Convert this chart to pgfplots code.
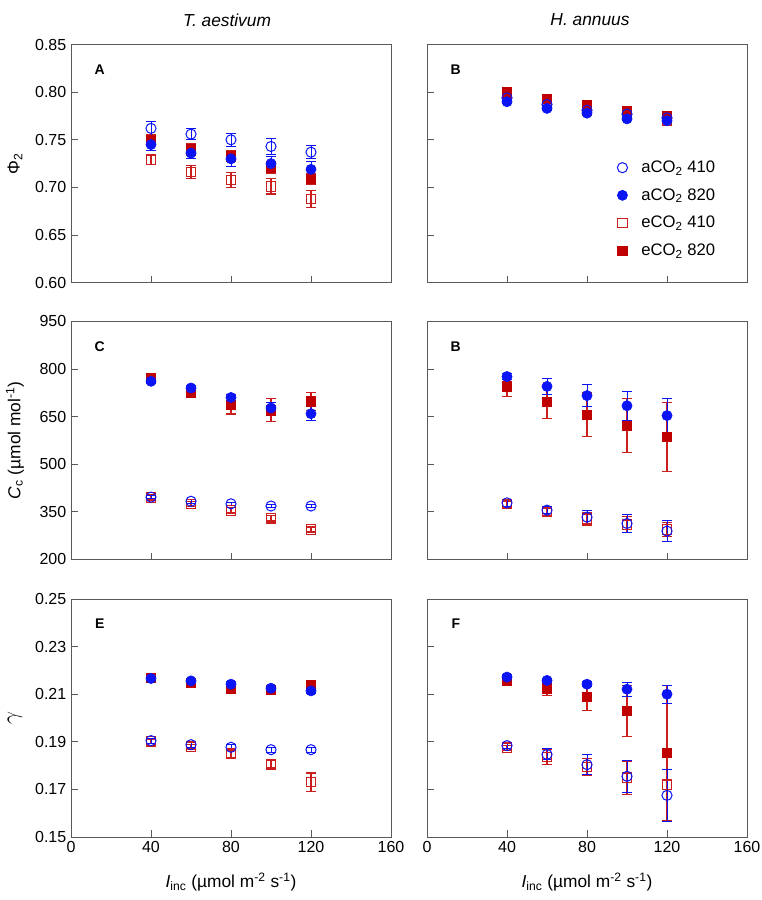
\documentclass[border=0pt]{standalone}
\usepackage{pgfplots}
\usepackage{pgfplotstable}
\pgfplotsset{compat=1.18}
\usepackage{fontspec}
\setmainfont{Liberation Sans}
\definecolor{myblue}{RGB}{10,20,245}
\definecolor{myred}{RGB}{192,0,0}
\definecolor{barred}{RGB}{205,30,30}

% columns: x, aCO2 410 (ao), aCO2 820 (af), eCO2 410 (eo), eCO2 820 (ef), with errors
\pgfplotstableread{
x   ao     aoe    af     afe    eo     eoe    ef     efe
40  0.762  0.007  0.745  0.006  0.729  0.005  0.750  0.006
60  0.756  0.006  0.736  0.006  0.716  0.007  0.740  0.006
80  0.750  0.007  0.730  0.008  0.708  0.008  0.733  0.006
100 0.743  0.008  0.725  0.007  0.701  0.008  0.721  0.006
120 0.737  0.007  0.719  0.008  0.688  0.009  0.709  0.006
}\tabA
\pgfplotstableread{
x   ao     aoe    af     afe    eo     eoe    ef     efe
40  0.794  0.002  0.790  0.002  0.796  0.002  0.800  0.002
60  0.787  0.002  0.783  0.002  0.788  0.002  0.793  0.002
80  0.781  0.002  0.778  0.002  0.781  0.002  0.787  0.002
100 0.777  0.002  0.772  0.002  0.776  0.002  0.780  0.002
120 0.773  0.002  0.770  0.002  0.770  0.002  0.775  0.002
}\tabB
\pgfplotstableread{
x   ao   aoe  af   afe  eo   eoe  ef   efe
40  396  5    761  8    395  8    773  8
60  383  6    740  8    375  8    724  8
80  375  5    710  8    354  8    687  29
100 368  5    677  16   329  8    670  36
120 368  5    659  22   294  8    698  29
}\tabC
\pgfplotstableread{
x   ao   aoe  af   afe  eo   eoe  ef   efe
40  378  12   776  10   374  10   745  33
60  355  12   745  24   349  10   696  53
80  333  22   716  35   326  20   656  68
100 313  29   684  45   309  25   621  85
120 289  34   653  54   294  22   586  108
}\tabD
\pgfplotstableread{
x   ao      aoe     af      afe     eo      eoe     ef      efe
40  0.1905  0.0010  0.2166  0.0010  0.1902  0.0010  0.2170  0.0008
60  0.1888  0.0010  0.2156  0.0010  0.1880  0.0010  0.2149  0.0008
80  0.1877  0.0010  0.2142  0.0010  0.1850  0.0015  0.2125  0.0008
100 0.1867  0.0010  0.2125  0.0010  0.1805  0.0015  0.2117  0.0008
120 0.1867  0.0010  0.2114  0.0010  0.1731  0.0038  0.2138  0.0008
}\tabE
\pgfplotstableread{
x   ao      aoe     af      afe     eo      eoe     ef      efe
40  0.1884  0.0010  0.2172  0.0010  0.1875  0.0010  0.2156  0.0010
60  0.1847  0.0023  0.2158  0.0010  0.1836  0.0030  0.2125  0.0030
80  0.1804  0.0043  0.2142  0.0010  0.1794  0.0035  0.2090  0.0060
100 0.1755  0.0067  0.2121  0.0030  0.1749  0.0070  0.2030  0.0107
120 0.1675  0.0108  0.2100  0.0038  0.1720  0.0150  0.1854  0.0284
}\tabF

\pgfplotsset{
  panel/.style={
    scale only axis, width=240pt, height=178.5pt, anchor=north west,
    xmin=0, xmax=160, xtick={0,40,80,120,160},
    tick align=inside, xtick pos=bottom, ytick pos=left,
    major tick length=5pt,
    axis line style={black!65, line width=0.6pt},
    tick style={black!65, line width=0.6pt},
    clip=false,
    tick label style={font=\fontsize{12}{14}\selectfont},
    /pgf/number format/assume math mode=true,
  },
  ylab/.style={ylabel style={at={(axis description cs:-0.175,0.5)}, anchor=center, font=\fontsize{13}{15}\selectfont}},
  xlab/.style={xlabel={\textit{I}\textsubscript{inc} (µmol m\textsuperscript{-2} s\textsuperscript{-1})},
    xlabel style={at={(axis description cs:0.5,-0.19)}, anchor=center, font=\fontsize{13}{15}\selectfont}},
  ebred/.style={error bars/.cd, y dir=both, y explicit,
    error bar style={color=barred, draw=barred, line width=0.85pt},
    error mark options={color=barred, draw=barred, rotate=90, mark size=3.6pt, line width=0.85pt}},
  ebblue/.style={error bars/.cd, y dir=both, y explicit,
    error bar style={color=myblue, draw=myblue, line width=0.7pt},
    error mark options={color=myblue, draw=myblue, rotate=90, mark size=3.6pt, line width=0.7pt}},
  aopen/.style={only marks, mark=o, mark size=3.8pt, color=myblue, mark options={line width=0.75pt}},
  afill/.style={only marks, mark=*, mark size=3.8pt, color=myblue, mark options={line width=0.5pt}},
  eopen/.style={only marks, mark=square, mark size=3.5pt, color=barred, mark options={draw=barred, line width=0.9pt}},
  efill/.style={only marks, mark=square*, mark size=3.5pt, color=myred, mark options={draw=myred, fill=myred, line width=0.5pt}},
  two/.style={yticklabel style={/pgf/number format/.cd, fixed, fixed zerofill, precision=2}},
}

\newcommand{\plotall}[1]{%
  \addplot[eopen, forget plot, ebred] table[x=x, y=eo, y error=eoe] {#1};
  \addplot[efill, forget plot, ebred] table[x=x, y=ef, y error=efe] {#1};
  \addplot[aopen, forget plot, ebblue] table[x=x, y=ao, y error=aoe] {#1};
  \addplot[afill, forget plot, ebblue] table[x=x, y=af, y error=afe] {#1};
}
\newcommand{\plet}[1]{\node[font=\bfseries\fontsize{10.5}{12}\selectfont] at (rel axis cs:0.09,0.895) {#1};}

\begin{document}
\begin{tikzpicture}
\useasboundingbox (0,0) rectangle (570.75pt,-675pt);
\node[font=\itshape\fontsize{13}{15}\selectfont] at (170.25pt,-15pt) {T. aestivum};
\node[font=\itshape\fontsize{13}{15}\selectfont] at (442.5pt,-15pt) {H. annuus};

% A
\begin{axis}[panel, two, ylab, at={(53.25pt,-33.45pt)},
  ymin=0.60, ymax=0.85, ytick={0.60,0.65,...,0.851}, xticklabels={},
  ylabel={Φ\textsubscript{2}}]
\plotall{\tabA}
\plet{A}
\end{axis}
% B
\begin{axis}[panel, at={(320.25pt,-33.45pt)},
  ymin=0.60, ymax=0.85, ytick={0.60,0.65,...,0.851}, xticklabels={}, yticklabels={},
  legend image code/.code={\path (0cm,0cm) (0.72cm,0cm); \draw[#1] plot coordinates {(0.3cm,0cm)};},
  legend style={at={(rel axis cs:0.561,0.535)}, anchor=north west, draw=none, fill=none,
    font=\fontsize{12.5}{14}\selectfont, row sep=6.5pt, cells={anchor=west}}]
\addlegendimage{aopen}\addlegendentry{aCO\textsubscript{2} 410}
\addlegendimage{afill}\addlegendentry{aCO\textsubscript{2} 820}
\addlegendimage{eopen}\addlegendentry{eCO\textsubscript{2} 410}
\addlegendimage{efill}\addlegendentry{eCO\textsubscript{2} 820}
\plotall{\tabB}
\plet{B}
\end{axis}
% C
\begin{axis}[panel, ylab, at={(53.25pt,-241pt)},
  ymin=200, ymax=950, ytick={200,350,500,650,800,950}, xticklabels={},
  ylabel={\textit{C}\textsubscript{c} (µmol mol\textsuperscript{-1})}]
\plotall{\tabC}
\plet{C}
\end{axis}
% D (labelled B)
\begin{axis}[panel, at={(320.25pt,-241pt)},
  ymin=200, ymax=950, ytick={200,350,500,650,800,950}, xticklabels={}, yticklabels={}]
\plotall{\tabD}
\plet{B}
\end{axis}
% E
\begin{axis}[panel, two, ylab, xlab, at={(53.25pt,-449.25pt)},
  ymin=0.15, ymax=0.25, ytick={0.15,0.17,...,0.251},
  ylabel={\fontsize{16}{18}\selectfont$\gamma$}]
\plotall{\tabE}
\plet{E}
\end{axis}
% F
\begin{axis}[panel, xlab, at={(320.25pt,-449.25pt)},
  ymin=0.15, ymax=0.25, ytick={0.15,0.17,...,0.251}, yticklabels={}]
\plotall{\tabF}
\plet{F}
\end{axis}
\end{tikzpicture}
\end{document}
